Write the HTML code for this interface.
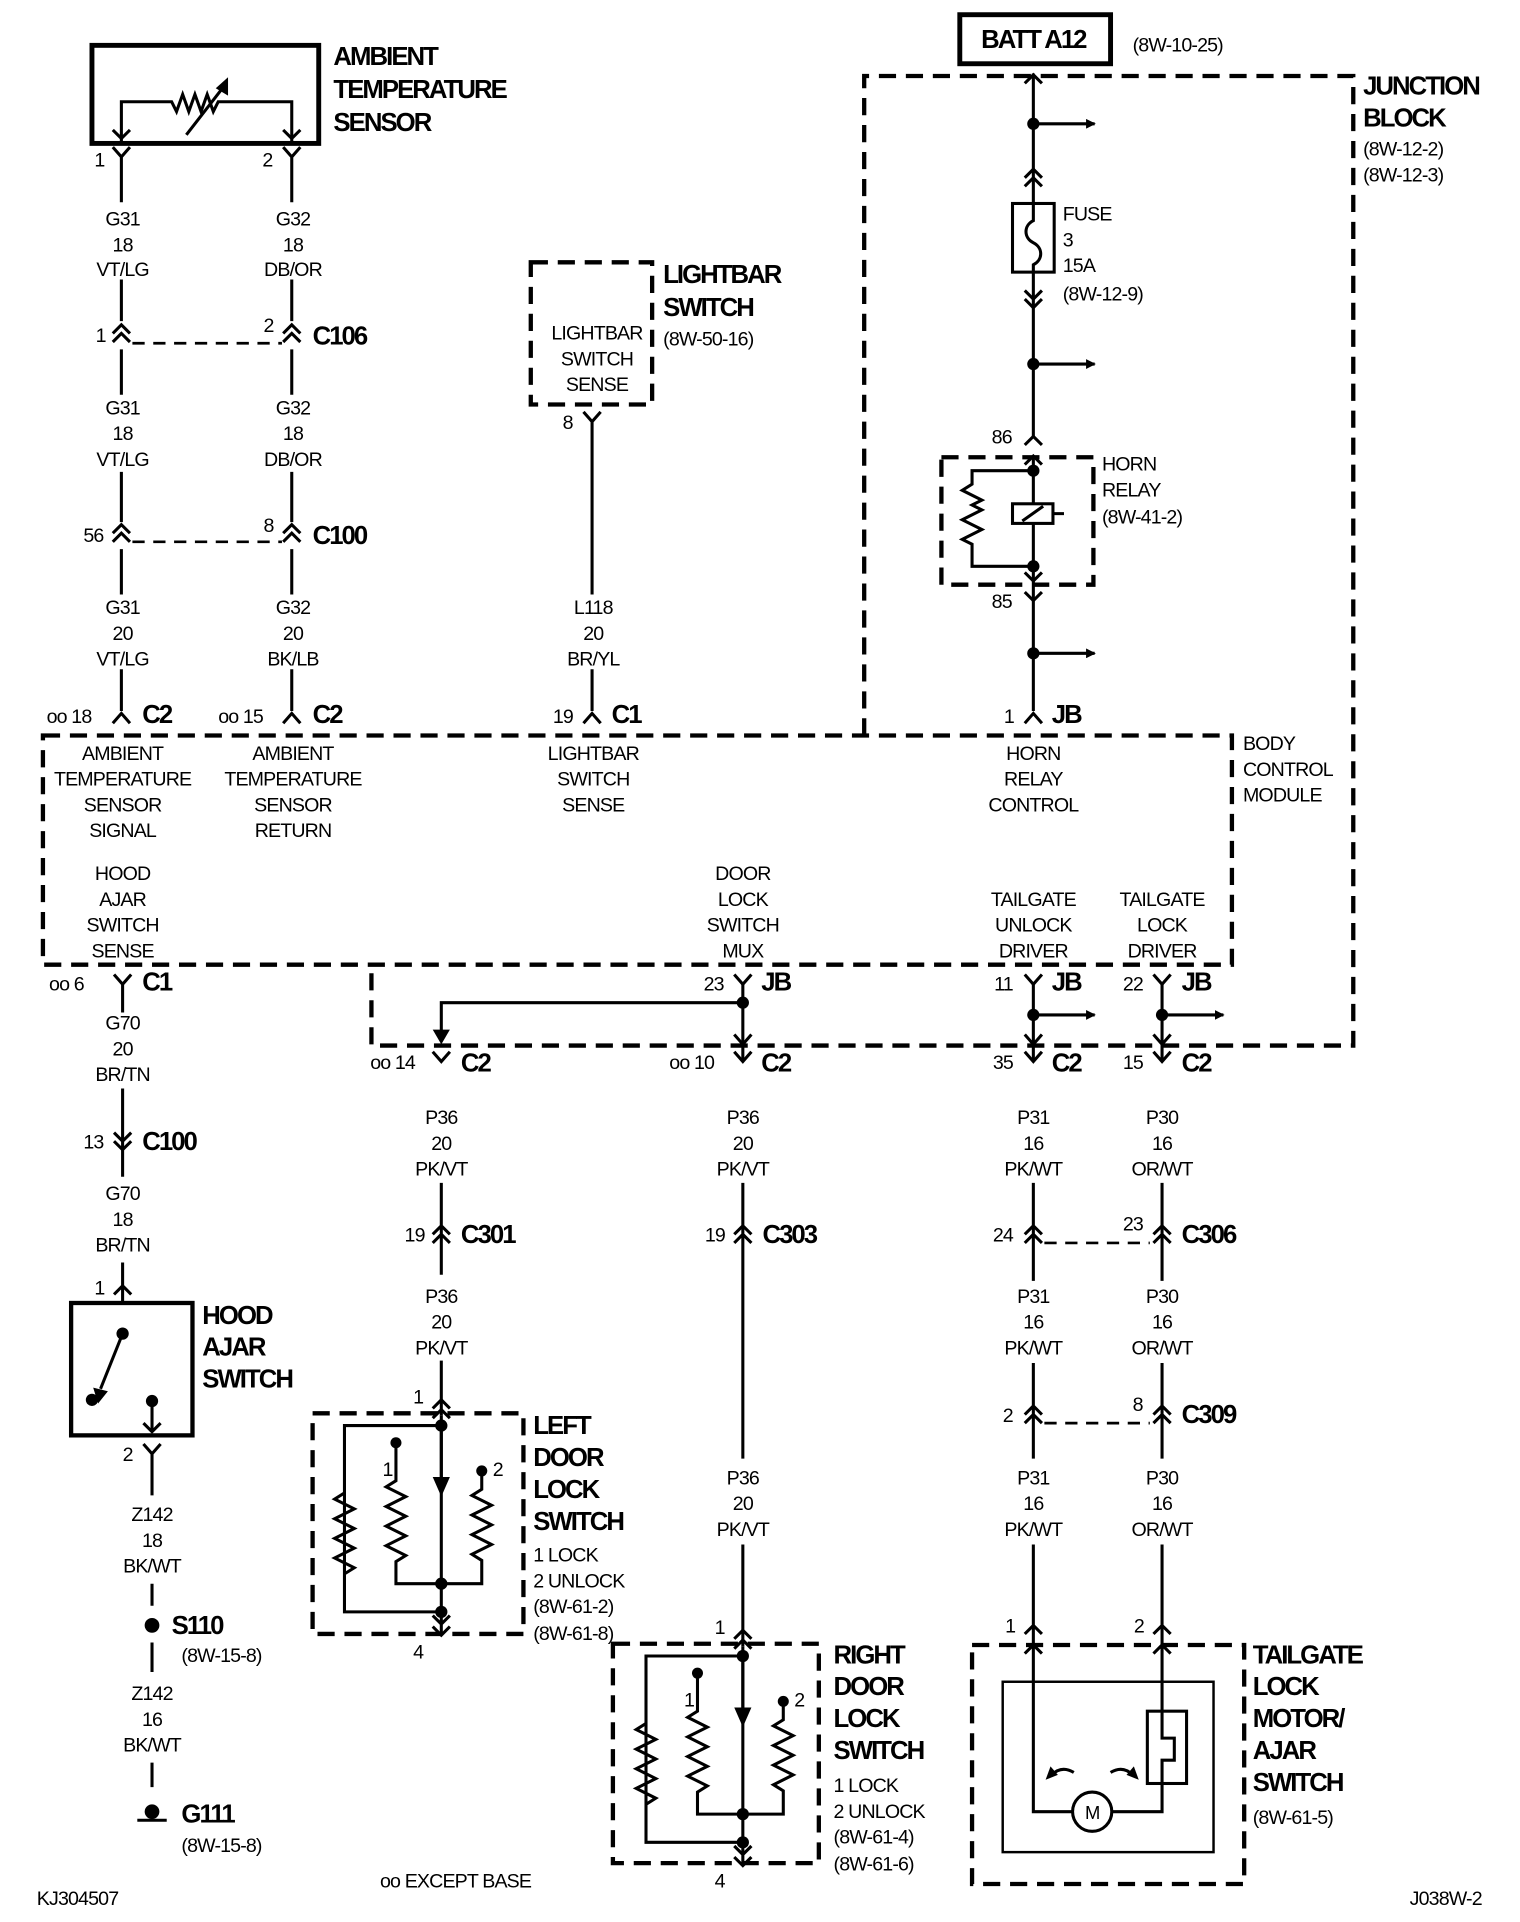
<!DOCTYPE html>
<html><head><meta charset="utf-8"><style>
html,body{margin:0;padding:0;background:#fff}
svg{display:block}
text{font-family:"Liberation Sans",Arial,sans-serif;font-size:16px;fill:#000;letter-spacing:-0.7px}
.b{font-weight:bold;font-size:21px;letter-spacing:-1.6px}
.c{text-anchor:middle}
.w{stroke:#000;stroke-width:2.5;fill:none}
.d{stroke:#000;stroke-width:3.5;fill:none;stroke-dasharray:14 8}
.dt{stroke:#000;stroke-width:2.2;fill:none;stroke-dasharray:10 7}
</style></head><body>
<svg width="1520" height="1922" viewBox="0 0 1240 1568" xmlns="http://www.w3.org/2000/svg">
<defs>
<marker id="ar" markerWidth="8" markerHeight="8" refX="7" refY="4" orient="auto" markerUnits="userSpaceOnUse"><path d="M0,0 L8,4 L0,8z" fill="#000"/></marker>
<g id="dsw">
 <path class="w" d="M0,2 V10 M0,10 H-79 V162 H0 M0,10 V162"/>
 <circle cx="0" cy="10" r="5"/><circle cx="0" cy="139" r="5"/><circle cx="0" cy="162" r="5"/>
 <path class="w" d="M-79,65 l-8,5 l16,8 l-16,8 l16,8 l-16,8 l16,8 l-16,8 l16,8 l-8,5"/>
 <path class="w" d="M-37,24 V55 l-8,5 l16,8 l-16,8 l16,8 l-16,8 l16,8 l-16,8 l16,8 l-8,5 V139 H33 V120 l-8,-5 l16,-8 l-16,-8 l16,-8 l-16,-8 l16,-8 l-16,-8 l8,-5 V47"/>
 <circle cx="-37" cy="24" r="4.5"/><circle cx="33" cy="47" r="4.5"/>
 <path class="w" d="M0,10 V58"/><path d="M-7,52 L0,68 L7,52z"/>
 <path class="w" d="M-7,-4 L0,-11 L7,-4 M-7,4 L0,-3 L7,4"/>
 <path class="w" d="M0,162 V180 M-7,165 L0,172 L7,165 M-7,174 L0,181 L7,174"/>
</g>
</defs>

<rect x="75" y="37" width="185" height="80" stroke="#000" stroke-width="4" fill="none"/>
<path class="w" d="M99,115 V83 H140 l4,8 l5,-14 l5,14 l5,-14 l5,14 l5,-14 l5,14 l4,-8 H238 V115"/>
<path class="w" d="M92,106 L99,113 L106,106 M231,106 L238,113 L245,106"/>
<path class="w" d="M152,110 L183,70"/><path d="M186,63 L176,72 L186,78z"/>
<text class="b" x="272" y="53">AMBIENT</text><text class="b" x="272" y="80">TEMPERATURE</text><text class="b" x="272" y="107">SENSOR</text>

<path class="w" d="M92,120 L99,128 L106,120 M99,128 V165 M99,228 V262 M99,285 V322 M99,385 V426 M99,448 V485 M99,546 V580"/>
<path class="w" d="M231,120 L238,128 L245,120 M238,128 V165 M238,228 V262 M238,285 V322 M238,385 V426 M238,448 V485 M238,546 V580"/>
<text x="77" y="136">1</text><text x="214" y="136">2</text>
<text class="c" x="100" y="184">G31</text><text class="c" x="100" y="205">18</text><text class="c" x="100" y="225">VT/LG</text>
<text class="c" x="239" y="184">G32</text><text class="c" x="239" y="205">18</text><text class="c" x="239" y="225">DB/OR</text>
<text class="c" x="100" y="338">G31</text><text class="c" x="100" y="359">18</text><text class="c" x="100" y="380">VT/LG</text>
<text class="c" x="239" y="338">G32</text><text class="c" x="239" y="359">18</text><text class="c" x="239" y="380">DB/OR</text>
<text class="c" x="100" y="501">G31</text><text class="c" x="100" y="522">20</text><text class="c" x="100" y="543">VT/LG</text>
<text class="c" x="239" y="501">G32</text><text class="c" x="239" y="522">20</text><text class="c" x="239" y="543">BK/LB</text>
<path class="w" d="M92,272 L99,265 L106,272 M92,279 L99,272 L106,279 M231,272 L238,265 L245,272 M231,279 L238,272 L245,279"/>
<path class="dt" d="M108,280 H230"/>
<text x="78" y="279">1</text><text x="215" y="271">2</text><text class="b" x="255" y="281">C106</text>
<path class="w" d="M92,435 L99,428 L106,435 M92,442 L99,435 L106,442 M231,435 L238,428 L245,435 M231,442 L238,435 L245,442"/>
<path class="dt" d="M108,442 H230"/>
<text x="68" y="442">56</text><text x="215" y="434">8</text><text class="b" x="255" y="444">C100</text>
<path class="w" d="M92,590 L99,582 L106,590 M231,590 L238,582 L245,590"/>
<text x="38" y="590">oo 18</text><text class="b" x="116" y="590">C2</text>
<text x="178" y="590">oo 15</text><text class="b" x="255" y="590">C2</text>

<rect x="433" y="214" width="99" height="116" class="d"/>
<text class="c" x="487" y="277">LIGHTBAR</text><text class="c" x="487" y="298">SWITCH</text><text class="c" x="487" y="319">SENSE</text>
<text class="b" x="541" y="231">LIGHTBAR</text><text class="b" x="541" y="258">SWITCH</text><text x="541" y="282">(8W-50-16)</text>
<path class="w" d="M476,336 L483,344 L490,336 M483,344 V485 M483,546 V580 M476,590 L483,582 L490,590"/>
<text x="459" y="350">8</text>
<text class="c" x="484" y="501">L118</text><text class="c" x="484" y="522">20</text><text class="c" x="484" y="543">BR/YL</text>
<text x="451" y="590">19</text><text class="b" x="499" y="590">C1</text>

<rect x="783" y="12" width="123" height="40" stroke="#000" stroke-width="4" fill="none"/>
<text class="b c" x="843" y="39" style="text-anchor:middle">BATT A12</text>
<text x="924" y="42">(8W-10-25)</text>

<path class="d" d="M705,600 V62 H1104 V853 H303 V787"/>
<text class="b" x="1112" y="77">JUNCTION</text><text class="b" x="1112" y="103">BLOCK</text>
<text x="1112" y="127">(8W-12-2)</text><text x="1112" y="148">(8W-12-3)</text>

<path class="w" d="M843,60 V166 M843,222 V356 M836,68 L843,61 L850,68"/>
<circle cx="843" cy="101" r="5"/><path class="w" d="M843,101 H893" marker-end="url(#ar)"/>
<path class="w" d="M836,145 L843,138 L850,145 M836,152 L843,145 L850,152"/>
<rect x="826" y="166" width="34" height="56" class="w"/>
<path class="w" d="M843,166 V180 c-8,4 -8,14 0,18 c8,4 8,14 0,18 V222"/>
<path class="w" d="M836,237 L843,244 L850,237 M836,244 L843,251 L850,244"/>
<circle cx="843" cy="297" r="5"/><path class="w" d="M843,297 H893" marker-end="url(#ar)"/>
<text x="867" y="180">FUSE</text><text x="867" y="201">3</text><text x="867" y="222">15A</text><text x="867" y="245">(8W-12-9)</text>
<path class="w" d="M836,363 L843,356 L850,363 M836,379 L843,372 L850,379"/>
<text x="809" y="362">86</text>
<rect x="768" y="373" width="124" height="104" class="d"/>
<path class="w" d="M843,372 V490 M843,384 H793 V395 l-8,5 l16,8 l-8,4 l8,4 l-16,8 l16,8 l-16,8 l8,4 V462 H843"/>
<circle cx="843" cy="384" r="5"/><circle cx="843" cy="462" r="5"/>
<rect x="826" y="411" width="33" height="16" fill="#fff" stroke="#000" stroke-width="2.5"/>
<path class="w" d="M834,425 L851,413 M859,419 H868"/>
<path class="w" d="M836,467 L843,474 L850,467 M836,483 L843,490 L850,483"/>
<text x="809" y="496">85</text>
<text x="899" y="384">HORN</text><text x="899" y="405">RELAY</text><text x="899" y="427">(8W-41-2)</text>
<path class="w" d="M843,490 V580"/>
<circle cx="843" cy="533" r="5"/><path class="w" d="M843,533 H893" marker-end="url(#ar)"/>
<path class="w" d="M836,590 L843,582 L850,590"/>
<text x="819" y="590">1</text><text class="b" x="858" y="590">JB</text>

<path class="d" d="M35,600 H1005 V787 H35 Z"/>
<text class="c" x="100" y="620">AMBIENT</text><text class="c" x="100" y="641">TEMPERATURE</text><text class="c" x="100" y="662">SENSOR</text><text class="c" x="100" y="683">SIGNAL</text>
<text class="c" x="239" y="620">AMBIENT</text><text class="c" x="239" y="641">TEMPERATURE</text><text class="c" x="239" y="662">SENSOR</text><text class="c" x="239" y="683">RETURN</text>
<text class="c" x="484" y="620">LIGHTBAR</text><text class="c" x="484" y="641">SWITCH</text><text class="c" x="484" y="662">SENSE</text>
<text class="c" x="843" y="620">HORN</text><text class="c" x="843" y="641">RELAY</text><text class="c" x="843" y="662">CONTROL</text>
<text x="1014" y="612">BODY</text><text x="1014" y="633">CONTROL</text><text x="1014" y="654">MODULE</text>
<text class="c" x="100" y="718">HOOD</text><text class="c" x="100" y="739">AJAR</text><text class="c" x="100" y="760">SWITCH</text><text class="c" x="100" y="781">SENSE</text>
<text class="c" x="606" y="718">DOOR</text><text class="c" x="606" y="739">LOCK</text><text class="c" x="606" y="760">SWITCH</text><text class="c" x="606" y="781">MUX</text>
<text class="c" x="843" y="739">TAILGATE</text><text class="c" x="843" y="760">UNLOCK</text><text class="c" x="843" y="781">DRIVER</text>
<text class="c" x="948" y="739">TAILGATE</text><text class="c" x="948" y="760">LOCK</text><text class="c" x="948" y="781">DRIVER</text>

<path class="w" d="M93,795 L100,803 L107,795 M100,803 V826 M599,795 L606,803 L613,795 M836,795 L843,803 L850,795 M941,795 L948,803 L955,795"/>
<text x="40" y="808">oo 6</text><text class="b" x="116" y="808">C1</text>
<text x="574" y="808">23</text><text class="b" x="621" y="808">JB</text>
<text x="811" y="808">11</text><text class="b" x="858" y="808">JB</text>
<text x="916" y="808">22</text><text class="b" x="964" y="808">JB</text>
<path class="w" d="M606,803 V866 M606,818 H360 V844"/><circle cx="606" cy="818" r="5"/>
<path d="M353,840 L360,852 L367,840z"/>
<path class="w" d="M599,844 L606,852 L613,844"/>
<path class="w" d="M843,803 V866 M948,803 V866 M836,844 L843,852 L850,844 M941,844 L948,852 L955,844"/>
<circle cx="843" cy="828" r="5"/><path class="w" d="M843,828 H893" marker-end="url(#ar)"/>
<circle cx="948" cy="828" r="5"/><path class="w" d="M948,828 H998" marker-end="url(#ar)"/>
<path class="w" d="M353,858 L360,866 L367,858 M599,858 L606,866 L613,858 M836,858 L843,866 L850,858 M941,858 L948,866 L955,858"/>
<text x="302" y="872">oo 14</text><text class="b" x="376" y="874">C2</text>
<text x="546" y="872">oo 10</text><text class="b" x="621" y="874">C2</text>
<text x="810" y="872">35</text><text class="b" x="858" y="874">C2</text>
<text x="916" y="872">15</text><text class="b" x="964" y="874">C2</text>

<text class="c" x="100" y="840">G70</text><text class="c" x="100" y="861">20</text><text class="c" x="100" y="882">BR/TN</text>
<path class="w" d="M100,888 V960 M93,924 L100,931 L107,924 M93,931 L100,938 L107,931"/>
<text x="68" y="937">13</text><text class="b" x="116" y="938">C100</text>
<text class="c" x="100" y="979">G70</text><text class="c" x="100" y="1000">18</text><text class="c" x="100" y="1021">BR/TN</text>
<path class="w" d="M100,1030 V1063 M93,1056 L100,1049 L107,1056"/>
<text x="77" y="1056">1</text>
<rect x="58" y="1063" width="99" height="108" stroke="#000" stroke-width="3.5" fill="none"/>
<circle cx="100" cy="1088" r="5"/><path class="w" d="M100,1088 L82,1133"/><path d="M76,1132 L80,1145 L88,1135z"/>
<circle cx="75" cy="1142" r="5"/><circle cx="124" cy="1143" r="5"/>
<path class="w" d="M124,1143 V1168 M117,1161 L124,1168 L131,1161"/>
<text class="b" x="165" y="1080">HOOD</text><text class="b" x="165" y="1106">AJAR</text><text class="b" x="165" y="1132">SWITCH</text>
<path class="w" d="M117,1178 L124,1186 L131,1178 M124,1186 V1220"/>
<text x="100" y="1192">2</text>
<text class="c" x="124" y="1241">Z142</text><text class="c" x="124" y="1262">18</text><text class="c" x="124" y="1283">BK/WT</text>
<path class="w" d="M124,1292 V1310 M124,1340 V1364"/>
<circle cx="124" cy="1326" r="6"/>
<text class="b" x="140" y="1333">S110</text><text x="148" y="1356">(8W-15-8)</text>
<text class="c" x="124" y="1387">Z142</text><text class="c" x="124" y="1408">16</text><text class="c" x="124" y="1429">BK/WT</text>
<path class="w" d="M124,1438 V1458 M124,1478 V1484 M112,1485 H136"/>
<circle cx="124" cy="1478" r="6"/>
<text class="b" x="148" y="1487">G111</text><text x="148" y="1511">(8W-15-8)</text>

<text class="c" x="360" y="917">P36</text><text class="c" x="360" y="938">20</text><text class="c" x="360" y="959">PK/VT</text>
<path class="w" d="M360,965 V1040 M353,1007 L360,1000 L367,1007 M353,1014 L360,1007 L367,1014"/>
<text x="330" y="1013">19</text><text class="b" x="376" y="1014">C301</text>
<text class="c" x="360" y="1063">P36</text><text class="c" x="360" y="1084">20</text><text class="c" x="360" y="1105">PK/VT</text>
<path class="w" d="M360,1110 V1155"/>
<text x="337" y="1145">1</text>
<rect x="255" y="1153" width="172" height="180" class="d"/>
<use href="#dsw" x="360" y="1153"/>
<text x="312" y="1204">1</text><text x="402" y="1204">2</text>
<text x="337" y="1353">4</text>
<text class="b" x="435" y="1170">LEFT</text><text class="b" x="435" y="1196">DOOR</text><text class="b" x="435" y="1222">LOCK</text><text class="b" x="435" y="1248">SWITCH</text>
<text x="435" y="1274">1 LOCK</text><text x="435" y="1295">2 UNLOCK</text><text x="435" y="1316">(8W-61-2)</text><text x="435" y="1338">(8W-61-8)</text>

<text class="c" x="606" y="917">P36</text><text class="c" x="606" y="938">20</text><text class="c" x="606" y="959">PK/VT</text>
<path class="w" d="M606,965 V1190 M599,1007 L606,1000 L613,1007 M599,1014 L606,1007 L613,1014"/>
<text x="575" y="1013">19</text><text class="b" x="622" y="1014">C303</text>
<text class="c" x="606" y="1211">P36</text><text class="c" x="606" y="1232">20</text><text class="c" x="606" y="1253">PK/VT</text>
<path class="w" d="M606,1260 V1343"/>
<text x="583" y="1333">1</text>
<rect x="500" y="1341" width="168" height="179" class="d"/>
<use href="#dsw" x="606" y="1341"/>
<text x="558" y="1392">1</text><text x="648" y="1392">2</text>
<text x="583" y="1540">4</text>
<text class="b" x="680" y="1357">RIGHT</text><text class="b" x="680" y="1383">DOOR</text><text class="b" x="680" y="1409">LOCK</text><text class="b" x="680" y="1435">SWITCH</text>
<text x="680" y="1462">1 LOCK</text><text x="680" y="1483">2 UNLOCK</text><text x="680" y="1504">(8W-61-4)</text><text x="680" y="1526">(8W-61-6)</text>

<text class="c" x="843" y="917">P31</text><text class="c" x="843" y="938">16</text><text class="c" x="843" y="959">PK/WT</text>
<text class="c" x="948" y="917">P30</text><text class="c" x="948" y="938">16</text><text class="c" x="948" y="959">OR/WT</text>
<path class="w" d="M843,965 V1045 M948,965 V1045 M836,1007 L843,1000 L850,1007 M836,1014 L843,1007 L850,1014 M941,1007 L948,1000 L955,1007 M941,1014 L948,1007 L955,1014"/>
<path class="dt" d="M852,1014 H938"/>
<text x="810" y="1013">24</text><text x="916" y="1004">23</text><text class="b" x="964" y="1014">C306</text>
<text class="c" x="843" y="1063">P31</text><text class="c" x="843" y="1084">16</text><text class="c" x="843" y="1105">PK/WT</text>
<text class="c" x="948" y="1063">P30</text><text class="c" x="948" y="1084">16</text><text class="c" x="948" y="1105">OR/WT</text>
<path class="w" d="M843,1112 V1190 M948,1112 V1190 M836,1154 L843,1147 L850,1154 M836,1161 L843,1154 L850,1161 M941,1154 L948,1147 L955,1154 M941,1161 L948,1154 L955,1161"/>
<path class="dt" d="M852,1161 H938"/>
<text x="818" y="1160">2</text><text x="924" y="1151">8</text><text class="b" x="964" y="1161">C309</text>
<text class="c" x="843" y="1211">P31</text><text class="c" x="843" y="1232">16</text><text class="c" x="843" y="1253">PK/WT</text>
<text class="c" x="948" y="1211">P30</text><text class="c" x="948" y="1232">16</text><text class="c" x="948" y="1253">OR/WT</text>
<path class="w" d="M843,1260 V1478 H875 M948,1260 V1396 M836,1333 L843,1326 L850,1333 M836,1349 L843,1342 L850,1349 M941,1333 L948,1326 L955,1333 M941,1349 L948,1342 L955,1349"/>
<text x="820" y="1332">1</text><text x="925" y="1332">2</text>
<rect x="793" y="1342" width="222" height="195" class="d"/>
<rect x="818" y="1372" width="172" height="139" stroke="#000" stroke-width="2" fill="none"/>
<rect x="936" y="1396" width="32" height="59" class="w"/>
<path class="w" d="M948,1396 V1418 H958 V1436 H948 V1455 M948,1455 V1478 H907"/>
<circle cx="891" cy="1478" r="16" stroke="#000" stroke-width="2.5" fill="#fff"/>
<text class="c" x="891" y="1484" style="font-size:15px">M</text>
<path class="w" d="M876,1446 Q866,1440 858,1448"/><path d="M853,1452 L857,1441 L863,1448z"/>
<path class="w" d="M906,1446 Q916,1440 924,1448"/><path d="M929,1452 L925,1441 L919,1448z"/>
<text class="b" x="1022" y="1357">TAILGATE</text><text class="b" x="1022" y="1383">LOCK</text><text class="b" x="1022" y="1409">MOTOR/</text><text class="b" x="1022" y="1435">AJAR</text><text class="b" x="1022" y="1461">SWITCH</text>
<text x="1022" y="1488">(8W-61-5)</text>

<text x="30" y="1554">KJ304507</text>
<text x="310" y="1540">oo EXCEPT BASE</text>
<text x="1150" y="1554">J038W-2</text>
</svg>
</body></html>
